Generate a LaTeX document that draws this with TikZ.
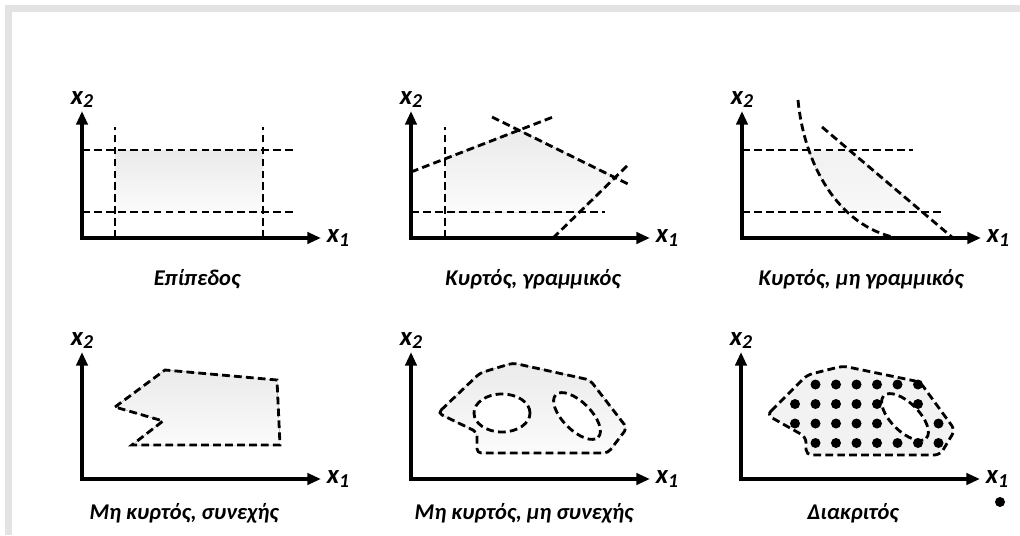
\documentclass[tikz,border=0pt]{standalone}
\usepackage{fontspec}
\setmainfont{Carlito}
\usetikzlibrary{arrows.meta,positioning,calc}

\newcommand{\xsub}[1]{x\raisebox{-0.25ex}{\fontsize{14}{14}\selectfont #1}}

\tikzset{
    axis/.style={line width=2.5pt, {Triangle[length=0.34cm,width=0.28cm]}-{Triangle[length=0.34cm,width=0.28cm]}},
    bound/.style={line width=2pt, dash pattern=on 5.5pt off 3pt},
    region/.style={top color=gray!16, bottom color=gray!3, draw=none},
    caption/.style={font=\fontsize{16}{18}\selectfont\bfseries\itshape, anchor=base},
    axlabel/.style={font=\fontsize{19}{21}\selectfont\bfseries\itshape, inner sep=1pt},
    dot/.style={circle, fill=black, inner sep=0pt, minimum size=0.25cm}
}

\begin{document}
\begin{tikzpicture}[x=0.025cm, y=0.025cm]
    \useasboundingbox (0,0) rectangle (1020,535);
    % frame shadow
    \fill[gray!22] (5,523) rectangle (1020,530);
    \fill[gray!22] (5,0) rectangle (12,530);

    % axes of the six panels
    \foreach \n/\ox/\oy in {1/82/297, 2/411/297, 3/742/297, 4/82/56, 5/411/56, 6/741/56} {
        \begin{scope}[shift={(\ox,\oy)}]
            \coordinate (o\n) at (0,0);
            \coordinate (ytip\n) at (0,127);
            \coordinate (xtip\n) at (239,0);
            \draw[axis] (ytip\n) -- (o\n) -- (xtip\n);
            \node[axlabel, above=1pt of ytip\n] (xtwo\n) {\xsub{2}};
            \node[axlabel, right=3pt of xtip\n] (xone\n) {\xsub{1}};
        \end{scope}
    }

    % panel 1: plane
    \begin{scope}[shift={(82,297)}]
        \fill[region] (33,26) rectangle (181,88);
        \draw[bound] (33,0) -- (33,111);
        \draw[bound] (181,0) -- (181,111);
        \draw[bound] (0,88) -- (215,88);
        \draw[bound] (0,26) -- (215,26);
        \node[caption] (cap1) at (115,-47) {Επίπεδος};
    \end{scope}

    % panel 2: convex, linear
    \begin{scope}[shift={(411,297)}]
        \coordinate (a1) at (0,66);   \coordinate (a2) at (142,121);
        \coordinate (b1) at (81,121); \coordinate (b2) at (219,53);
        \coordinate (c1) at (142,0);  \coordinate (c2) at (219,75);
        \coordinate (v1) at (34,0);   \coordinate (v2) at (34,111);
        \coordinate (l1) at (0,26);   \coordinate (l2) at (194,26);
        \coordinate (av) at (intersection of a1--a2 and v1--v2);
        \coordinate (ab) at (intersection of a1--a2 and b1--b2);
        \coordinate (bc) at (intersection of b1--b2 and c1--c2);
        \coordinate (cl) at (intersection of c1--c2 and l1--l2);
        \fill[region] (av) -- (ab) -- (bc) -- (cl) -- (34,26) -- cycle;
        \draw[bound] (a1) -- (a2);
        \draw[bound] (b1) -- (b2);
        \draw[bound] (c1) -- (c2);
        \draw[bound] (v1) -- (v2);
        \draw[bound] (l1) -- (l2);
        \node[caption] (cap2) at (122,-47) {Κυρτός, γραμμικός};
    \end{scope}

    % panel 3: convex, non linear
    \begin{scope}[shift={(742,297)}]
        \begin{scope}
            \clip (0,26) rectangle (240,88);
            \fill[region] (56,138) .. controls (62,75) and (95,12) .. (155,0) -- (211,0) -- (80,111) -- cycle;
        \end{scope}
        \draw[bound] (0,88) -- (171,88);
        \draw[bound] (0,26) -- (203,26);
        \draw[bound] (56,138) .. controls (62,75) and (95,12) .. (155,0);
        \draw[bound] (80,111) -- (211,0);
        \node[caption] (cap3) at (119,-47) {Κυρτός, μη γραμμικός};
    \end{scope}

    % panel 4: non convex, continuous
    \begin{scope}[shift={(82,56)}]
        \fill[region] (33,72) -- (83,109) -- (195,99) -- (198,34) -- (50,34) -- (81,58) -- cycle;
        \draw[bound] (33,72) -- (83,109) -- (195,99) -- (198,34) -- (50,34) -- (81,58) -- cycle;
        \node[caption] (cap4) at (102,-40) {Μη κυρτός, συνεχής};
    \end{scope}

    % panel 5: non convex, not continuous
    \begin{scope}[shift={(411,56)}]
        \fill[region, rounded corners=3pt] (27,66) -- (69,106) -- (102,116) -- (179,99) -- (216,51) -- (197,26) -- (66,26) -- (66,47) -- cycle;
        \fill[white] (91,66) ellipse [x radius=28, y radius=19];
        \fill[white] (166,63) ellipse [x radius=30, y radius=14, rotate=-45];
        \draw[bound, rounded corners=3pt] (27,66) -- (69,106) -- (102,116) -- (179,99) -- (216,51) -- (197,26) -- (66,26) -- (66,47) -- cycle;
        \draw[bound] (91,66) ellipse [x radius=28, y radius=19];
        \draw[bound] (166,63) ellipse [x radius=30, y radius=14, rotate=-45];
        \node[caption] (cap5) at (113,-40) {Μη κυρτός, μη συνεχής};
    \end{scope}

    % panel 6: discrete
    \begin{scope}[shift={(741,56)}]
        \fill[gray!10, rounded corners=4pt] (26,64) -- (66,104) -- (102,113) -- (179,97) -- (214,49) -- (199,24) -- (65,24) -- (65,42) -- cycle;
        \fill[white] (164,62) ellipse [x radius=30, y radius=14, rotate=-45];
        \draw[bound, rounded corners=4pt] (26,64) -- (66,104) -- (102,113) -- (179,97) -- (214,49) -- (199,24) -- (65,24) -- (65,42) -- cycle;
        \draw[bound] (164,62) ellipse [x radius=30, y radius=14, rotate=-45];
        \foreach \i/\j in {1/3, 2/3, 3/3, 4/3, 5/3, 6/3,
                           0/2, 1/2, 2/2, 3/2, 4/2, 6/2,
                           0/1, 1/1, 2/1, 3/1, 4/1, 7/1,
                           1/0, 2/0, 3/0, 4/0, 5/0, 6/0, 7/0}
            \node[dot] (d\i\j) at ({54+20.5*\i}, {36+19.5*\j}) {};
        \node[dot] (dx) at (259,-23) {};
        \node[caption] (cap6) at (112,-40) {Διακριτός};
    \end{scope}
\end{tikzpicture}
\end{document}
